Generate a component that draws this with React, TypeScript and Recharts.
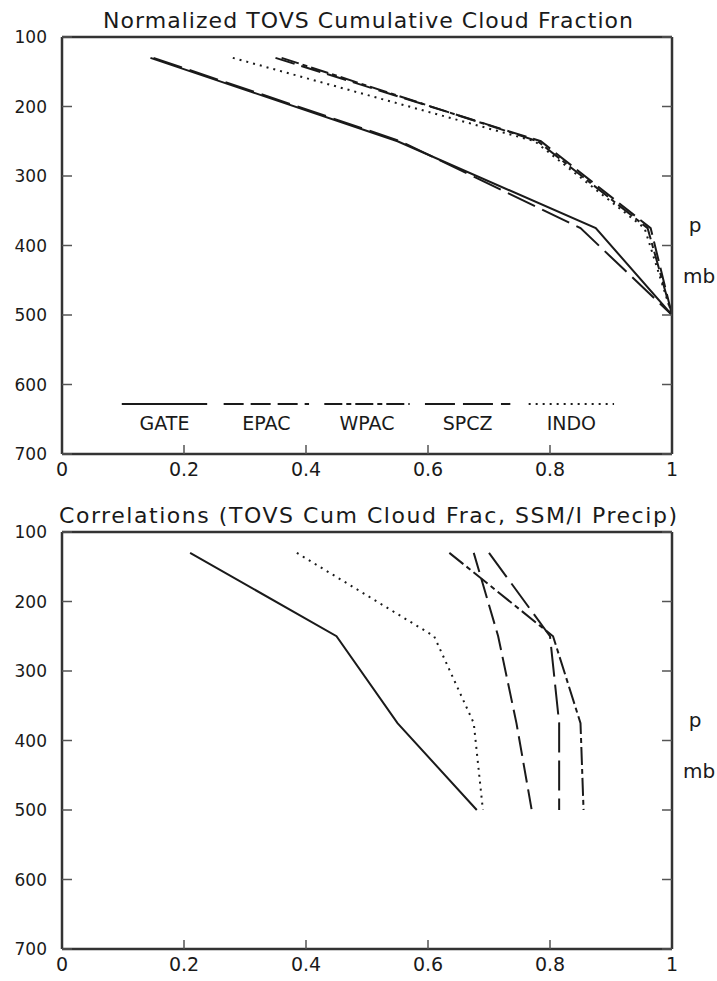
import React from 'react';
import { LineChart, Line, XAxis, YAxis, ReferenceDot } from 'recharts';

// ---- data ----
const pressureLevels = [130, 250, 375, 500];
const xTicks = [0, 0.2, 0.4, 0.6, 0.8, 1];
const yTicks = [100, 200, 300, 400, 500, 600, 700];
const seriesNames = ['GATE', 'EPAC', 'WPAC', 'SPCZ', 'INDO'];

// Normalized TOVS cumulative cloud fraction
const topGATE = [0.145, 0.55, 0.875, 1.0];
const topEPAC = [0.35, 0.785, 0.965, 1.0];
const topWPAC = [0.36, 0.78, 0.96, 1.0];
const topSPCZ = [0.15, 0.555, 0.85, 1.0];
const topINDO = [0.28, 0.775, 0.955, 1.0];

// Correlations (TOVS cum cloud frac, SSM/I precip)
const botGATE = [0.21, 0.45, 0.55, 0.68];
const botEPAC = [0.675, 0.715, 0.745, 0.77];
const botWPAC = [0.635, 0.805, 0.85, 0.855];
const botSPCZ = [0.7, 0.8, 0.815, 0.815];
const botINDO = [0.385, 0.61, 0.675, 0.69];

// legend (top panel)
const legendCenters = [0.168, 0.335, 0.5, 0.665, 0.835];
const legendHalf = 0.07;
const legendLineP = 628;
const legendLabelP = 656;

// ---- styles ----
const dashes: Record<string, string | undefined> = {
  GATE: undefined,
  EPAC: '20 7',
  WPAC: '18 4 5 4',
  SPCZ: '30 8',
  INDO: '2 5',
};
const FONT = 'DejaVu Sans';
const INK = '#1a1a1a';
const AXIS = { stroke: '#333', strokeWidth: 2.5 };
const TICKLINE = { stroke: '#555', strokeWidth: 1.5 };

const EmptyTick = () => <g />;

const toPoints = (vals: number[]) => vals.map((v, i) => ({ v, p: pressureLevels[i] }));

function Panel({ series, showLegend }: { series: number[][]; showLegend: boolean }) {
  return (
    <LineChart width={717} height={495} margin={{ top: 37, right: 45, bottom: 0, left: 0 }}>
      <XAxis
        xAxisId="b"
        dataKey="v"
        type="number"
        domain={[0, 1]}
        allowDataOverflow
        ticks={xTicks}
        interval={0}
        height={41}
        tickLine={TICKLINE}
        tickSize={-9}
        tickMargin={18}
        axisLine={AXIS}
        tick={{ fontSize: 19, fill: INK, fontFamily: FONT }}
      />
      <XAxis
        xAxisId="t"
        dataKey="v"
        type="number"
        domain={[0, 1]}
        allowDataOverflow
        orientation="top"
        mirror
        tick={false}
        tickLine={false}
        axisLine={AXIS}
      />
      <YAxis
        yAxisId="l"
        dataKey="p"
        type="number"
        domain={[100, 700]}
        allowDataOverflow
        reversed
        ticks={yTicks}
        interval={0}
        width={62}
        tickLine={false}
        tickSize={0}
        tickMargin={15}
        axisLine={AXIS}
        tick={{ fontSize: 17, fill: INK, fontFamily: FONT }}
      />
      <YAxis
        yAxisId="lm"
        dataKey="p"
        type="number"
        domain={[100, 700]}
        allowDataOverflow
        reversed
        ticks={yTicks}
        interval={0}
        orientation="left"
        mirror
        tick={EmptyTick}
        tickSize={10}
        tickLine={TICKLINE}
        axisLine={false}
      />
      <YAxis
        yAxisId="r"
        dataKey="p"
        type="number"
        domain={[100, 700]}
        allowDataOverflow
        reversed
        ticks={yTicks}
        interval={0}
        orientation="right"
        mirror
        tick={EmptyTick}
        tickSize={10}
        tickLine={TICKLINE}
        axisLine={AXIS}
      />
      {series.map((vals, i) => (
        <Line
          key={seriesNames[i]}
          xAxisId="b"
          yAxisId="l"
          data={toPoints(vals)}
          dataKey="p"
          stroke={INK}
          strokeWidth={2}
          strokeDasharray={dashes[seriesNames[i]]}
          dot={false}
          activeDot={false}
          isAnimationActive={false}
        />
      ))}
      {showLegend &&
        seriesNames.map((name, i) => (
          <Line
            key={'leg' + name}
            xAxisId="b"
            yAxisId="l"
            data={[
              { v: legendCenters[i] - legendHalf, p: legendLineP },
              { v: legendCenters[i] + legendHalf, p: legendLineP },
            ]}
            dataKey="p"
            stroke={INK}
            strokeWidth={2}
            strokeDasharray={dashes[name]}
            dot={false}
            activeDot={false}
            isAnimationActive={false}
          />
        ))}
      {showLegend &&
        seriesNames.map((name, i) => (
          <ReferenceDot
            key={'lab' + name}
            xAxisId="b"
            yAxisId="l"
            x={legendCenters[i]}
            y={legendLabelP}
            r={0}
            fill="none"
            stroke="none"
            label={{ value: name, position: 'center', fontSize: 19, fill: INK, fontFamily: FONT }}
          />
        ))}
    </LineChart>
  );
}

export default function App() {
  const textStyle = { fontFamily: FONT, fill: INK } as const;
  return (
    <div style={{ position: 'absolute', left: 0, top: 0, width: 717, height: 981, background: '#fff' }}>
      <div style={{ position: 'absolute', left: 0, top: 0 }}>
        <Panel series={[topGATE, topEPAC, topWPAC, topSPCZ, topINDO]} showLegend />
      </div>
      <div style={{ position: 'absolute', left: 0, top: 495 }}>
        <Panel series={[botGATE, botEPAC, botWPAC, botSPCZ, botINDO]} showLegend={false} />
      </div>
      <svg width={717} height={981} style={{ position: 'absolute', left: 0, top: 0, pointerEvents: 'none' }}>
        <text x={368} y={28} textAnchor="middle" fontSize={22} textLength={530} lengthAdjust="spacing" {...textStyle}>
          Normalized TOVS Cumulative Cloud Fraction
        </text>
        <text x={368} y={523} textAnchor="middle" fontSize={22} textLength={618} lengthAdjust="spacing" {...textStyle}>
          Correlations (TOVS Cum Cloud Frac, SSM/I Precip)
        </text>
        <text x={695} y={232} textAnchor="middle" fontSize={20} {...textStyle}>p</text>
        <text x={699} y={283} textAnchor="middle" fontSize={20} {...textStyle}>mb</text>
        <text x={695} y={727} textAnchor="middle" fontSize={20} {...textStyle}>p</text>
        <text x={699} y={778} textAnchor="middle" fontSize={20} {...textStyle}>mb</text>
      </svg>
    </div>
  );
}
